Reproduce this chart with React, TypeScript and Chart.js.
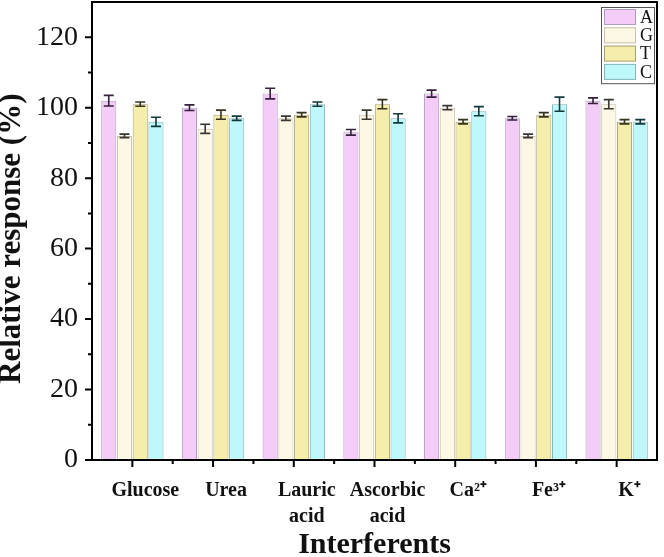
import React, { useEffect, useRef } from "react";
import { Chart, registerables } from "chart.js";

Chart.register(...registerables);

const categories: (string | string[])[] = [
  "Glucose",
  "Urea",
  ["Lauric", "acid"],
  ["Ascorbic", "acid"],
  "Ca²⁺",
  "Fe³⁺",
  "K⁺",
];

const seriesNames = ["A", "G", "T", "C"];

const valuesA = [102, 100, 104, 93, 104, 97, 102];
const valuesG = [92, 94, 97, 98, 100, 92, 101];
const valuesT = [101, 98, 98, 101, 96, 98, 96];
const valuesC = [96, 97, 101, 97, 99, 101, 96];

const errA = [1.5, 0.8, 1.5, 0.8, 1.0, 0.5, 0.8];
const errG = [0.5, 1.3, 0.6, 1.3, 0.6, 0.5, 1.3];
const errT = [0.6, 1.3, 0.6, 1.3, 0.6, 0.6, 0.6];
const errC = [1.3, 0.6, 0.6, 1.3, 1.3, 2.0, 0.6];

const fills = ["#F3CDF8", "#FDF7E6", "#F5EDAA", "#BFF8FA"];
const borders = ["#B39DBE", "#C9C1AA", "#A8A074", "#86B6B8"];
const errColors = ["#35203d", "#3a3630", "#36331f", "#12393b"];

const yTickValues = [0, 20, 40, 60, 80, 100, 120];

const FONT = "'Liberation Serif', 'Times New Roman', serif";

export default function App() {
  const ref = useRef<HTMLCanvasElement | null>(null);

  useEffect(() => {
    const canvas = ref.current;
    if (!canvas) return;
    const allValues = [valuesA, valuesG, valuesT, valuesC];
    const allErr = [errA, errG, errT, errC];

    const errorBars = {
      id: "errorBars",
      afterDatasetsDraw(chart: any) {
        const ctx = chart.ctx;
        const ys = chart.scales.y;
        ctx.save();
        allValues.forEach((vals, i) => {
          const meta = chart.getDatasetMeta(i);
          meta.data.forEach((el: any, j: number) => {
            const v = vals[j];
            const e = allErr[i][j];
            const yt = ys.getPixelForValue(v + e);
            const yb = ys.getPixelForValue(v - e);
            const x = el.x;
            ctx.strokeStyle = errColors[i];
            ctx.lineWidth = 1.6;
            ctx.beginPath();
            ctx.moveTo(x, yt);
            ctx.lineTo(x, yb);
            ctx.moveTo(x - 5, yt);
            ctx.lineTo(x + 5, yt);
            ctx.moveTo(x - 5, yb);
            ctx.lineTo(x + 5, yb);
            ctx.stroke();
          });
        });
        ctx.restore();
      },
    };

    const frameAndTicks = {
      id: "frameAndTicks",
      afterDraw(chart: any) {
        const ctx = chart.ctx;
        const a = chart.chartArea;
        const xs = chart.scales.x;
        const ys = chart.scales.y;
        ctx.save();
        ctx.strokeStyle = "#000";
        ctx.lineWidth = 2;
        ctx.strokeRect(a.left, a.top, a.right - a.left, a.bottom - a.top);
        ctx.beginPath();
        for (let v = 0; v <= 120; v += 10) {
          const y = ys.getPixelForValue(v);
          const len = v % 20 === 0 ? 7 : 4;
          ctx.moveTo(a.left, y);
          ctx.lineTo(a.left - len, y);
        }
        const n = categories.length;
        const step = (a.right - a.left) / n;
        for (let i = 0; i < n; i++) {
          const x = xs.getPixelForValue(i);
          ctx.moveTo(x, a.bottom);
          ctx.lineTo(x, a.bottom + 7);
          if (i > 0) {
            const xb = x - step / 2;
            ctx.moveTo(xb, a.bottom);
            ctx.lineTo(xb, a.bottom + 4);
          }
        }
        ctx.stroke();

        // legend box
        const boxRight = a.right - 3;
        const boxLeft = boxRight - 53;
        const boxTop = a.top + 5;
        const rowH = 18.3;
        const boxBottom = boxTop + rowH * seriesNames.length + 3;
        ctx.fillStyle = "#fff";
        ctx.fillRect(boxLeft, boxTop, boxRight - boxLeft, boxBottom - boxTop);
        ctx.lineWidth = 1;
        ctx.strokeStyle = "#555";
        ctx.strokeRect(boxLeft + 0.5, boxTop + 0.5, boxRight - boxLeft, boxBottom - boxTop);
        ctx.font = `18px ${FONT}`;
        ctx.textBaseline = "middle";
        ctx.textAlign = "left";
        seriesNames.forEach((name, i) => {
          const y0 = boxTop + 2 + i * rowH;
          ctx.fillStyle = fills[i];
          ctx.fillRect(boxLeft + 3, y0, 32, 16);
          ctx.strokeStyle = borders[i];
          ctx.strokeRect(boxLeft + 3.5, y0 + 0.5, 31, 15);
          ctx.fillStyle = "#111";
          ctx.fillText(name, boxLeft + 39, y0 + 9);
        });
        ctx.restore();
      },
    };

    const chart = new Chart(canvas, {
      type: "bar",
      data: {
        labels: categories,
        datasets: seriesNames.map((name, i) => ({
          label: name,
          data: allValues[i],
          backgroundColor: fills[i],
          borderColor: borders[i],
          borderWidth: 1,
          barPercentage: 0.96,
          categoryPercentage: 0.78,
        })),
      },
      options: {
        animation: false,
        responsive: false,
        layout: { padding: { left: 0, right: 7, top: 2, bottom: 0 } },
        plugins: {
          legend: { display: false },
          tooltip: { enabled: false },
        },
        scales: {
          x: {
            offset: true,
            grid: { display: false },
            border: { display: false },
            ticks: {
              color: "#111",
              font: { family: FONT, size: 20, weight: "bold", lineHeight: 1.3 },
              padding: 10,
              labelOffset: 13,
              maxRotation: 0,
              autoSkip: false,
            },
            title: {
              display: true,
              text: "Interferents",
              color: "#111",
              font: { family: FONT, size: 30, weight: "bold", lineHeight: 1 },
              padding: { top: 0, bottom: -3 },
            },
            afterFit(scale: any) {
              scale.height = 97;
              scale.paddingLeft = 0;
              scale.paddingRight = 0;
            },
          },
          y: {
            min: 0,
            max: 130,
            grid: { display: false },
            border: { display: false },
            afterBuildTicks(scale: any) {
              scale.ticks = yTickValues.map((v) => ({ value: v }));
            },
            ticks: {
              color: "#111",
              font: { family: FONT, size: 28 },
              padding: 6,
            },
            title: {
              display: true,
              text: "Relative response (%)  ",
              color: "#111",
              font: { family: FONT, size: 31, weight: "bold", lineHeight: 0.8 },
              padding: { top: 0, bottom: 0 },
            },
            afterFit(scale: any) {
              scale.width = 92;
              scale.paddingTop = 0;
              scale.paddingBottom = 0;
            },
          },
        },
      },
      plugins: [errorBars, frameAndTicks],
    });
    return () => chart.destroy();
  }, []);

  return (
    <div style={{ position: "absolute", left: 0, top: 0, width: 664, height: 557, background: "#fff" }}>
      <canvas ref={ref} width={664} height={557} style={{ width: 664, height: 557, display: "block" }} />
    </div>
  );
}
